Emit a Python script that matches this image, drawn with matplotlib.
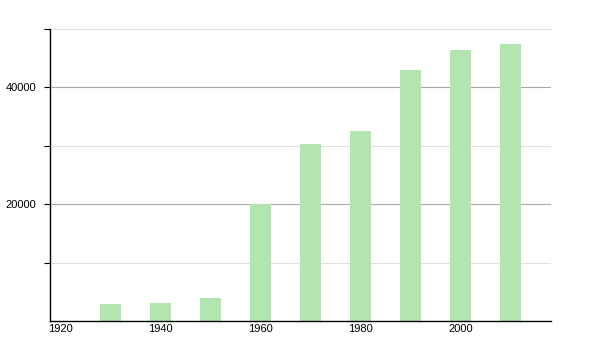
import matplotlib
matplotlib.use("Agg")
import matplotlib.pyplot as plt
import matplotlib.transforms as mtransforms

years = [1930, 1940, 1950, 1960, 1970, 1980, 1990, 2000, 2010]
population = [2900, 3080, 3930, 20100, 30250, 32500, 42900, 46450, 47500]
x_ticks = [1920, 1940, 1960, 1980, 2000]
y_labels = {20000: "20000", 40000: "40000"}

plt.rcParams["font.family"] = ["Liberation Sans", "DejaVu Sans"]

fig = plt.figure(figsize=(6, 3.5), dpi=100)
ax = fig.add_axes([50 / 600, 29 / 350, 501 / 600, 292 / 350])

ax.bar(years, population, width=4.2, align="edge", color="#b3e5b1", zorder=2)

for val in range(10000, 50001, 10000):
    color = "#aaaaaa" if val in y_labels else "#e0e0e0"
    ax.axhline(val, color=color, linewidth=0.8, zorder=1)

ax.set_xlim(1920, 2020.2)
ax.set_ylim(0, 50000)
ax.set_yticks(range(10000, 50001, 10000))
ax.set_yticklabels([y_labels.get(v, "") for v in range(10000, 50001, 10000)])
ax.set_xticks(x_ticks)
ax.set_xticklabels([str(x) for x in x_ticks], ha="left")

ax.tick_params(axis="y", length=4, width=0.8, pad=6, labelsize=8)
ax.tick_params(axis="x", length=0, pad=2, labelsize=8)

# nudge x labels slightly left, as in the original
shift = mtransforms.ScaledTranslation(-2 / 100, 0, fig.dpi_scale_trans)
for lbl in ax.get_xticklabels():
    lbl.set_transform(lbl.get_transform() + shift)

for side in ("top", "right"):
    ax.spines[side].set_visible(False)
for side in ("left", "bottom"):
    ax.spines[side].set_linewidth(1)
    ax.spines[side].set_color("black")

fig.savefig("out.png", dpi=100)
